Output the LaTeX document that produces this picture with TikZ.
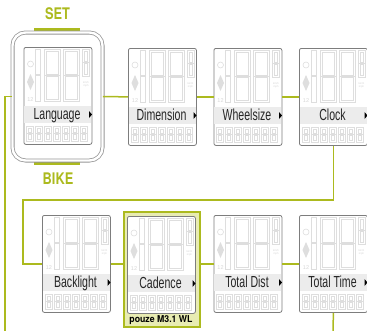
\documentclass[tikz,border=0pt]{standalone}
\usepackage{fontspec}
\setmainfont{Liberation Sans}
\newfontfamily\lcdfont[FakeStretch=0.66]{Liberation Sans}
\newfontfamily\headfont[FakeStretch=0.8]{TeX Gyre Heros}
\newfontfamily\notefont[FakeStretch=0.92]{TeX Gyre Heros}
\definecolor{olivec}{RGB}{172,186,30}
\definecolor{cadfill}{RGB}{232,236,178}
\definecolor{scrgray}{RGB}{125,125,125}
\definecolor{devgray}{RGB}{150,150,150}
\definecolor{seggray}{RGB}{222,222,222}
\definecolor{bandgray}{RGB}{236,236,236}
\tikzset{
  screen/.style={draw=scrgray, fill=white, rounded corners=2pt, minimum width=68pt, minimum height=97pt, inner sep=0pt, line width=0.8pt, anchor=north west},
  seg/.style={draw=seggray, line width=0.6pt},
  conn/.style={draw=olivec, line width=1.5pt},
  lcdtxt/.style={font=\lcdfont\fontsize{16}{16}\selectfont, text=black!85, inner sep=0pt, anchor=base},
  tinytxt/.style={font=\fontsize{5.5}{5.5}\selectfont, text=seggray!120, inner sep=0pt},
  microtxt/.style={font=\fontsize{2.6}{2.8}\selectfont, text=seggray!130, inner sep=0pt, align=center},
  headtxt/.style={font=\headfont\bfseries\fontsize{16}{16}\selectfont, text=olivec, inner sep=0pt},
  notetxt/.style={font=\notefont\bfseries\fontsize{9.5}{9.5}\selectfont, text=black, inner sep=0pt},
}
\newcommand\lcddigit[4]{%
  \draw[seg] (#1,#2) rectangle ({#1+#3},{#2+#4/2});
  \draw[seg] (#1,{#2+#4/2}) rectangle ({#1+#3},{#2+#4});
  \draw[seg] ({#1+2},{#2+2}) rectangle ({#1+#3-2},{#2+#4/2-1});
  \draw[seg] ({#1+2},{#2+#4/2+1}) rectangle ({#1+#3-2},{#2+#4-2});
}
\newcommand\lcdscreen[4]{%
  \node[screen] (#1) at (#2,#3) {};
  \begin{scope}[shift={(#2,#3)}]
    \fill[bandgray] (0.5,59) rectangle (67.5,76);
    \draw[seg] (7,17) circle (3);
    \fill[seggray] (7,27) -- (10.5,35) -- (7,43) -- (3.5,35) -- cycle;
    \node[tinytxt] (#1-num) at (7,53) {12};
    \draw[seg] (12,2) rectangle (17,27);
    \draw[seg] (12,28) rectangle (17,54);
    \lcddigit{21}{2}{16}{52}
    \lcddigit{40}{2}{16}{52}
    \lcddigit{59}{2}{7}{27}
    \node[microtxt] (#1-unit) at (62.5,37) {km/h\\mph};
    \foreach \i in {0,...,6} { \lcddigit{3+9*\i}{79}{7}{15} }
    \node[lcdtxt] (#1-t) at (33.5,72.5) {#4};
    \fill[black] (65.5,64) -- (68.5,67.5) -- (65.5,71) -- cycle;
  \end{scope}
}
\begin{document}
\begin{tikzpicture}[x=1pt,y=-1pt]
\useasboundingbox (0,0) rectangle (367,330);
% device around Language
\fill[olivec] (34,28) rectangle (80,32.5);
\fill[olivec] (34,160.5) rectangle (80,165);
\node[draw=devgray, line width=0.8pt, double=white, double distance=2.4pt, fill=white,
      rounded corners=13pt, minimum width=90pt, minimum height=128pt, inner sep=0pt]
      (langdev) at (57.5,96.5) {};
\node[headtxt] (set) at (57.5,14) {SET};
\node[headtxt] (bike) at (58,178.5) {BIKE};
% cadence highlight
\node[draw=olivec, line width=1.5pt, fill=cadfill, minimum width=76pt, minimum height=115pt,
      inner sep=0pt, anchor=north west] (cadbox) at (123,211) {};
\node[notetxt] (note) at (161,320.5) {pouze M3.1 WL};
% screens
\lcdscreen{lang}{23.5}{47}{Language}
\lcdscreen{dim}{128}{48}{Dimension}
\lcdscreen{wheel}{213.5}{48}{Wheelsize}
\lcdscreen{clock}{299}{48}{Clock}
\lcdscreen{back}{42}{215}{Backlight}
\lcdscreen{cad}{127}{216}{Cadence}
\lcdscreen{tdist}{213.5}{215}{Total Dist}
\lcdscreen{ttime}{299}{215}{Total Time}
% connectors
\coordinate (turn) at (23,200);
\coordinate (leftend) at (5,332);
\coordinate (bottomend) at (333,332);
\draw[conn] (langdev.east) -- (dim.west);
\draw[conn] (dim.east) -- (wheel.west);
\draw[conn] (wheel.east) -- (clock.west);
\draw[conn] (clock.south) |- (turn) |- (back.west);
\draw[conn] (back.east) -- (back.east -| cadbox.west);
\draw[conn] (cadbox.east |- tdist.west) -- (tdist.west);
\draw[conn] (tdist.east) -- (ttime.west);
\draw[conn] (ttime.south) -- (bottomend);
\draw[conn] (langdev.west) -| (leftend);
\end{tikzpicture}
\end{document}
